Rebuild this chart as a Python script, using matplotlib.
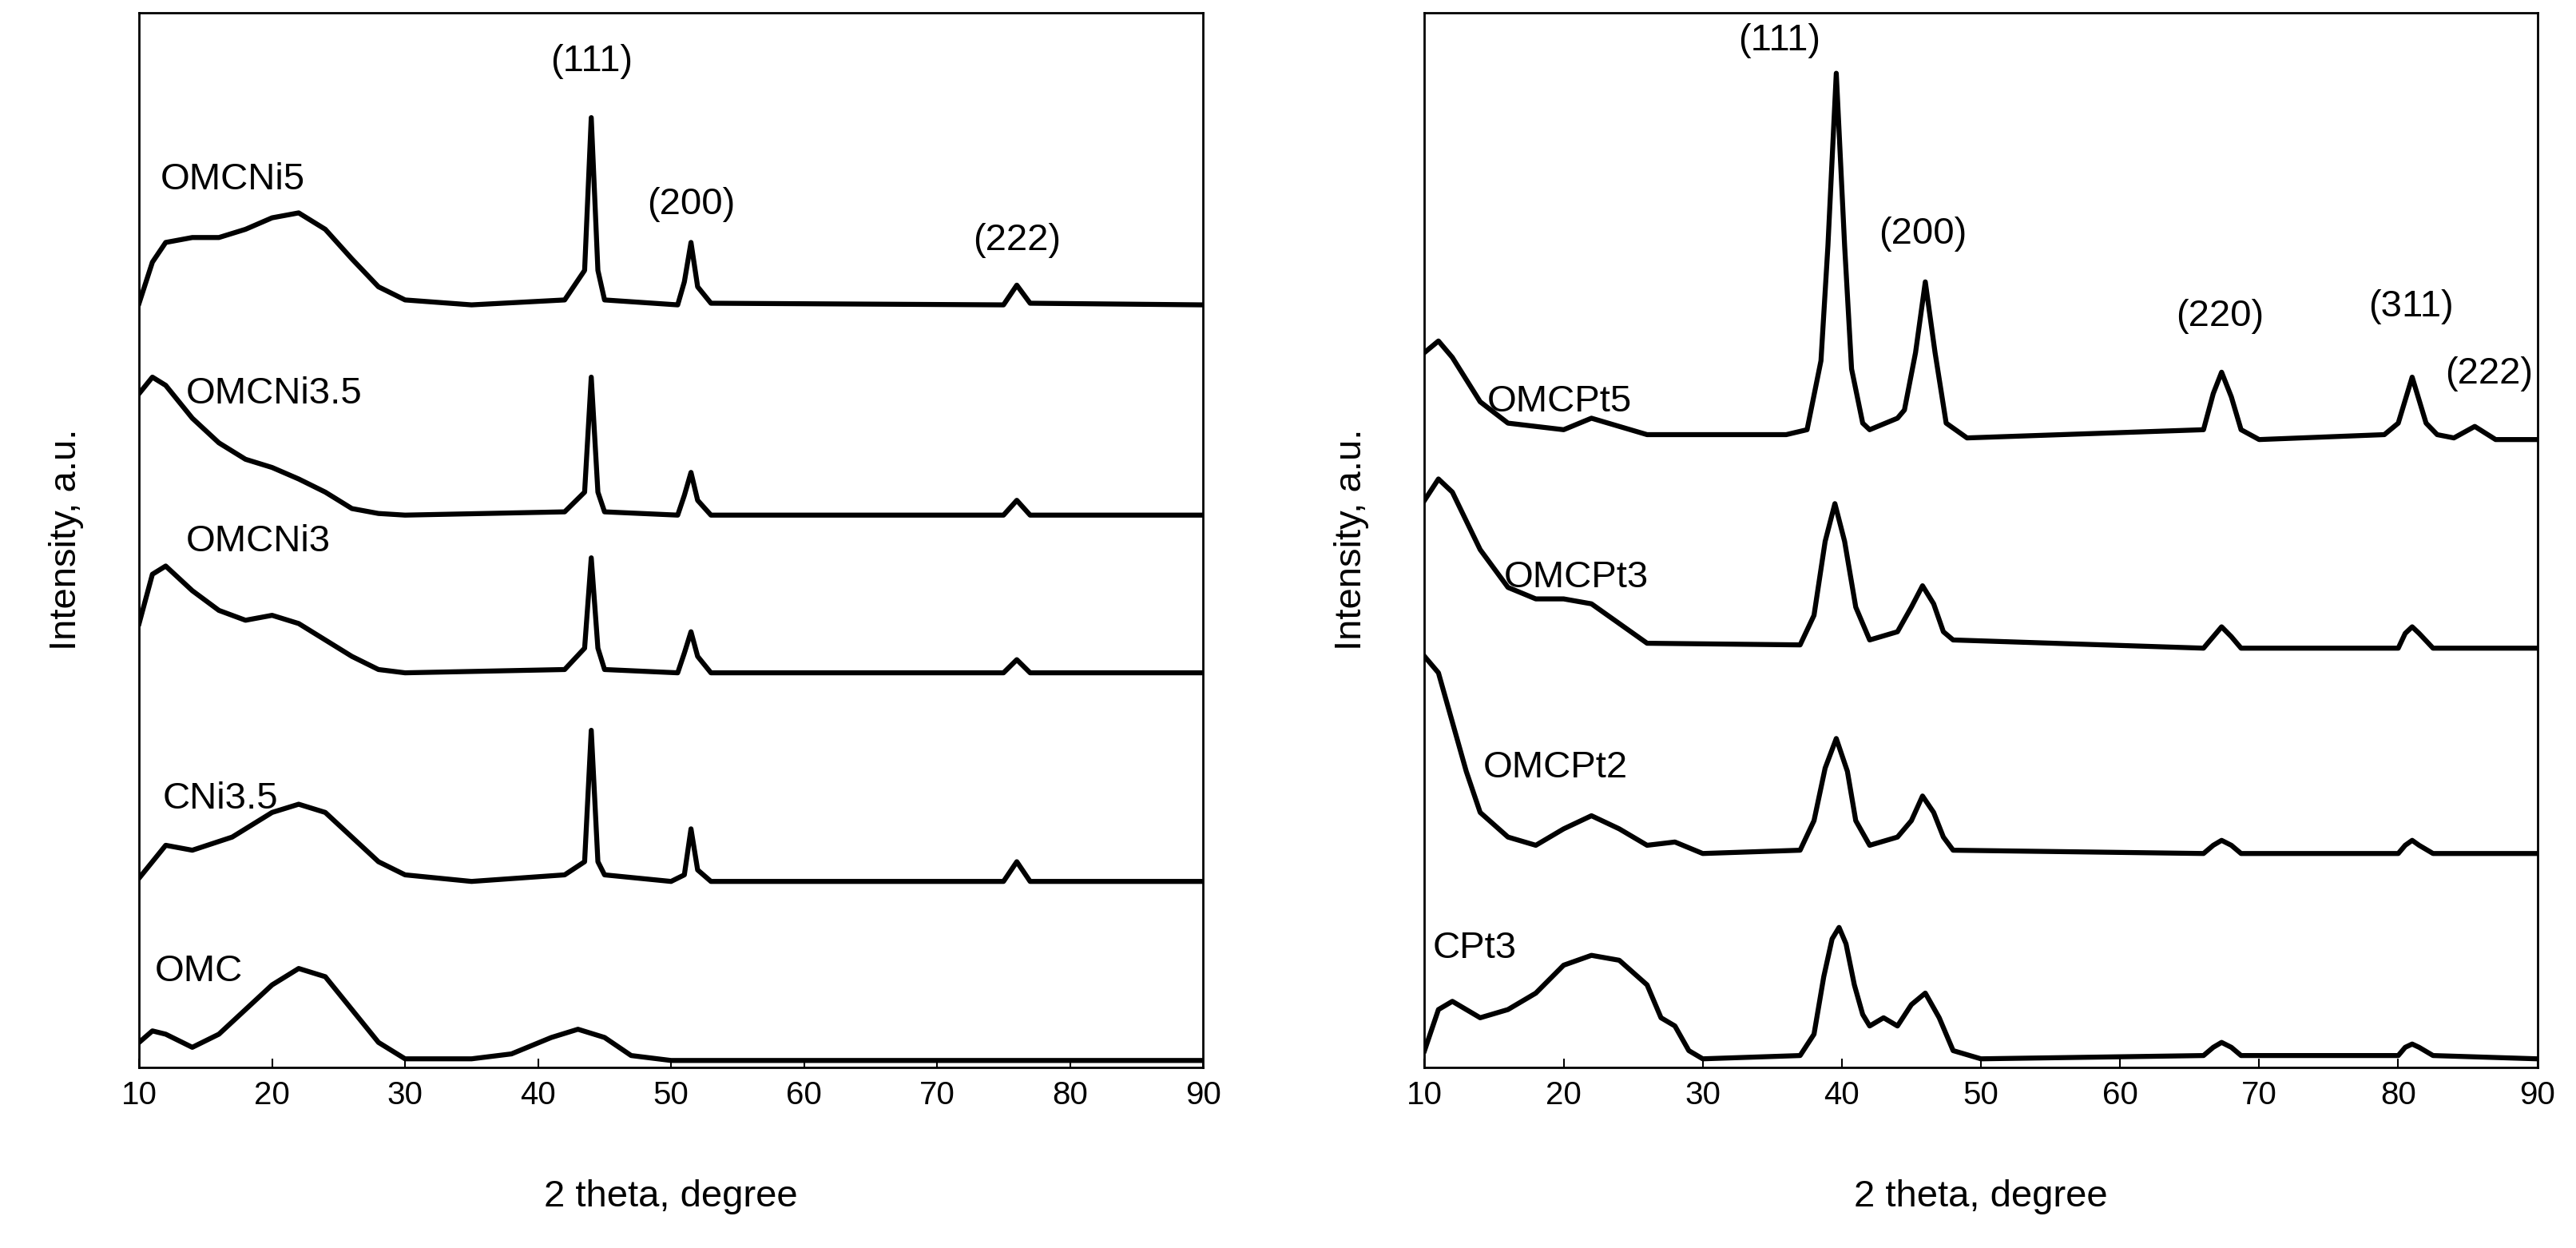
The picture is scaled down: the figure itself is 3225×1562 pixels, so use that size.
import matplotlib
matplotlib.use("Agg")
import matplotlib.pyplot as plt
import numpy as np

plt.rcParams['font.family'] = ['Liberation Sans', 'DejaVu Sans']

TOP = 650  # intensities are read as (TOP - reading) in arbitrary units

# ---- Left panel (Ni) : 2theta, reading ----
omc_x = [10, 11, 12, 14, 16, 18, 20, 22, 24, 26, 28, 30, 35, 38, 41, 43, 45, 47, 50, 90]
omc_y = [635, 628, 630, 638, 630, 615, 600, 590, 595, 615, 635, 645, 645, 642, 632, 627, 632, 643, 646, 646]

cni35_x = [10, 12, 14, 17, 20, 22, 24, 26, 28, 30, 35, 42, 43.5, 44, 44.5, 45, 50, 51, 51.5, 52, 53, 75, 76, 77, 90]
cni35_y = [535, 515, 518, 510, 495, 490, 495, 510, 525, 533, 537, 533, 525, 445, 525, 533, 537, 533, 505, 530, 537, 537, 525, 537, 537]

omcni3_x = [10, 11, 12, 14, 16, 18, 20, 22, 24, 26, 28, 30, 42, 43.5, 44, 44.5, 45, 50.5, 51, 51.5, 52, 53, 75, 76, 77, 90]
omcni3_y = [380, 350, 345, 360, 372, 378, 375, 380, 390, 400, 408, 410, 408, 395, 340, 395, 408, 410, 398, 385, 400, 410, 410, 402, 410, 410]

omcni35_x = [10, 11, 12, 14, 16, 18, 20, 22, 24, 26, 28, 30, 42, 43.5, 44, 44.5, 45, 50.5, 51, 51.5, 52, 53, 75, 76, 77, 90]
omcni35_y = [240, 230, 235, 255, 270, 280, 285, 292, 300, 310, 313, 314, 312, 300, 230, 300, 312, 314, 302, 288, 305, 314, 314, 305, 314, 314]

omcni5_x = [10, 11, 12, 14, 16, 18, 20, 22, 24, 26, 28, 30, 35, 42, 43.5, 44, 44.5, 45, 50.5, 51, 51.5, 52, 53, 75, 76, 77, 90]
omcni5_y = [185, 160, 148, 145, 145, 140, 133, 130, 140, 158, 175, 183, 186, 183, 165, 72, 165, 183, 186, 172, 148, 175, 185, 186, 174, 185, 186]

# ---- Right panel (Pt) ----
cpt3_x = [10, 11, 12, 14, 16, 18, 20, 22, 24, 26, 27, 28, 29, 30, 37, 38, 38.7, 39.3, 39.8, 40.3, 40.9, 41.5, 42, 43, 44, 45, 46, 47, 48, 50, 66, 66.7, 67.3, 68, 68.7, 80, 80.5, 81, 81.5, 82.5, 90]
cpt3_y = [640, 615, 610, 620, 615, 605, 588, 582, 585, 600, 620, 625, 640, 645, 643, 630, 595, 572, 565, 575, 600, 618, 625, 620, 625, 612, 605, 620, 640, 645, 643, 638, 635, 638, 643, 643, 638, 636, 638, 643, 645]

omcpt2_x = [10, 11, 12, 13, 14, 16, 18, 20, 22, 24, 26, 28, 30, 37, 38, 38.8, 39.6, 40.4, 41, 42, 44, 45, 45.8, 46.6, 47.3, 48, 66, 66.7, 67.3, 68, 68.7, 80, 80.5, 81, 81.5, 82.5, 90]
omcpt2_y = [400, 410, 440, 470, 495, 510, 515, 505, 497, 505, 515, 513, 520, 518, 500, 468, 450, 470, 500, 515, 510, 500, 485, 495, 510, 518, 520, 515, 512, 515, 520, 520, 515, 512, 515, 520, 520]

omcpt3_x = [10, 11, 12, 14, 16, 18, 20, 22, 24, 26, 37, 38, 38.8, 39.5, 40.2, 41, 42, 44, 45, 45.8, 46.6, 47.3, 48, 66, 66.7, 67.3, 68, 68.7, 80, 80.5, 81, 81.5, 82.5, 90]
omcpt3_y = [305, 292, 300, 335, 358, 365, 365, 368, 380, 392, 393, 375, 330, 307, 330, 370, 390, 385, 370, 357, 368, 385, 390, 395, 388, 382, 388, 395, 395, 386, 382, 386, 395, 395]

omcpt5_x = [10, 11, 12, 14, 16, 18, 20, 22, 24, 26, 36, 37.5, 38.5, 39, 39.6, 40.2, 40.7, 41.5, 42, 44, 44.5, 45.3, 46, 46.7, 47.5, 49, 66, 66.7, 67.3, 68, 68.7, 70, 79, 80, 81, 82, 82.8, 84, 85.5, 87, 90]
omcpt5_y = [215, 208, 218, 245, 258, 260, 262, 255, 260, 265, 265, 262, 220, 150, 45, 150, 225, 258, 262, 255, 250, 215, 172, 215, 258, 267, 262, 240, 227, 242, 262, 268, 265, 258, 230, 258, 265, 267, 260, 268, 268]

left_series = [(omc_x, omc_y), (cni35_x, cni35_y), (omcni3_x, omcni3_y), (omcni35_x, omcni35_y), (omcni5_x, omcni5_y)]
right_series = [(cpt3_x, cpt3_y), (omcpt2_x, omcpt2_y), (omcpt3_x, omcpt3_y), (omcpt5_x, omcpt5_y)]

left_labels = [("OMCNi5", 11.6, 110), ("OMCNi3.5", 13.5, 240), ("OMCNi3", 13.5, 330),
               ("CNi3.5", 11.8, 487), ("OMC", 11.2, 592)]
left_peaks = [("(111)", 44, 38), ("(200)", 51.5, 125), ("(222)", 76, 147)]
right_labels = [("OMCPt5", 14.5, 245), ("OMCPt3", 15.7, 352), ("OMCPt2", 14.2, 468), ("CPt3", 10.6, 578)]
right_peaks = [("(111)", 35.5, 25), ("(200)", 45.8, 143), ("(220)", 67.2, 193),
               ("(311)", 80.9, 187), ("(222)", 86.5, 228)]

xticks = [10, 20, 30, 40, 50, 60, 70, 80, 90]

fig = plt.figure(figsize=(32.25, 15.62), dpi=100)
axL = fig.add_axes([0.054, 0.145, 0.413, 0.845])
axR = fig.add_axes([0.553, 0.145, 0.432, 0.845])

for ax, series, labels, peaks in [(axL, left_series, left_labels, left_peaks),
                                  (axR, right_series, right_labels, right_peaks)]:
    for xs, ys in series:
        ax.plot(xs, TOP - np.array(ys), color='black', lw=4.5)
    for t, x, y in labels:
        ax.text(x, TOP - y, t, fontsize=34, ha='left', va='center')
    for t, x, y in peaks:
        ax.text(x, TOP - y, t, fontsize=34, ha='center', va='center')
    ax.set_xlim(10, 90)
    ax.set_ylim(0, 642)
    ax.set_xticks(xticks)
    ax.set_yticks([])
    ax.tick_params(axis='x', direction='in', length=8, width=1.5, labelsize=29, pad=12)
    for s in ax.spines.values():
        s.set_linewidth(2)
    ax.set_xlabel("2 theta, degree", fontsize=34, labelpad=62)
    ax.set_ylabel("Intensity, a.u.", fontsize=34, labelpad=50)

fig.savefig("out.png", dpi=100)
